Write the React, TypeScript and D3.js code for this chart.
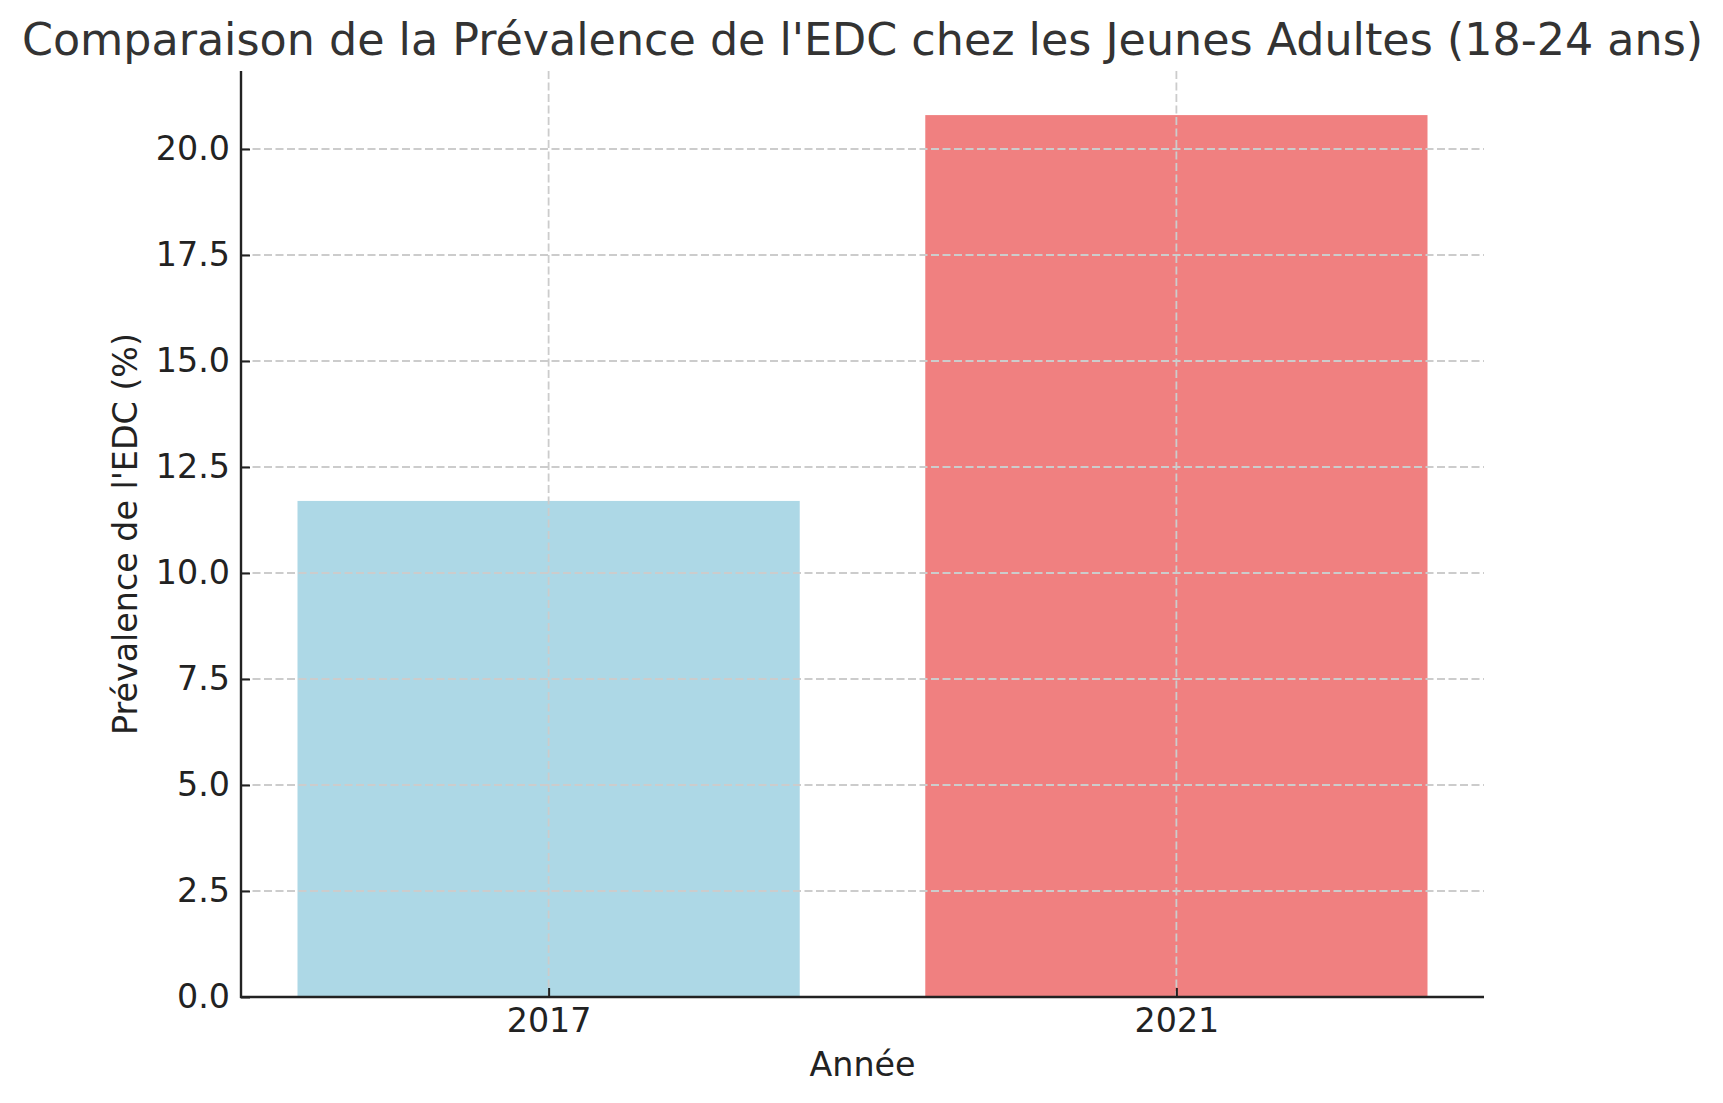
import { useEffect, useRef } from 'react'
import * as d3 from 'd3'

const years = ['2017', '2021']
const prevalence = [11.7, 20.8]
const barColors = ['#add8e6', '#f08080']
const yTicks = [0, 2.5, 5, 7.5, 10, 12.5, 15, 17.5, 20]

const title = "Comparaison de la Prévalence de l'EDC chez les Jeunes Adultes (18-24 ans)"
const xLabel = 'Année'
const yLabel = "Prévalence de l'EDC (%)"

const W = 1723
const H = 1103
const FONT = '"DejaVu Sans", sans-serif'
const LABEL_SIZE = '33.3px'

export default function App() {
  const ref = useRef<SVGSVGElement>(null)

  useEffect(() => {
    if (!ref.current) return
    const svg = d3.select(ref.current)
    svg.selectAll('*').remove()

    const left = 241
    const right = 1484
    const top = 71
    const bottom = 997

    // matplotlib style: bar positions 0..n-1, width 0.8, 5% margins
    const x = d3.scaleLinear().domain([-0.49, 1.49]).range([left, right])
    const y = d3.scaleLinear().domain([0, 20.8 * 1.05]).range([bottom, top])

    svg.append('rect').attr('width', W).attr('height', H).attr('fill', '#ffffff')

    // bars
    svg.append('g')
      .selectAll('rect')
      .data(prevalence)
      .join('rect')
      .attr('x', (_, i) => x(i - 0.4))
      .attr('width', (_, i) => x(i + 0.4) - x(i - 0.4))
      .attr('y', d => y(d))
      .attr('height', d => y(0) - y(d))
      .attr('fill', (_, i) => barColors[i])

    // grid (drawn over bars, like the source)
    const grid = svg.append('g')
      .attr('stroke', '#cccccc')
      .attr('stroke-width', 1.8)
      .attr('stroke-dasharray', '8,3.5')
    grid.selectAll('line.h')
      .data(yTicks)
      .join('line')
      .attr('class', 'h')
      .attr('x1', left)
      .attr('x2', right)
      .attr('y1', d => y(d))
      .attr('y2', d => y(d))
    grid.selectAll('line.v')
      .data(years)
      .join('line')
      .attr('class', 'v')
      .attr('x1', (_, i) => x(i))
      .attr('x2', (_, i) => x(i))
      .attr('y1', top)
      .attr('y2', bottom)

    // y axis
    const yAxis = svg.append('g')
      .attr('transform', `translate(${left},0)`)
      .call(d3.axisLeft(y).tickValues(yTicks).tickSizeInner(-9).tickSizeOuter(0).tickPadding(11)
        .tickFormat(d => d3.format('.1f')(d as number)))
    yAxis.select('.domain').remove()
    yAxis.selectAll('.tick line').attr('stroke', '#222222').attr('stroke-width', 2)
    yAxis.selectAll('.tick text')
      .attr('fill', '#222222')
      .style('font-family', FONT)
      .style('font-size', LABEL_SIZE)

    // x axis
    const xAxis = svg.append('g')
      .attr('transform', `translate(0,${bottom})`)
      .call(d3.axisBottom(x).tickValues([0, 1]).tickSizeInner(-9).tickSizeOuter(0).tickPadding(11)
        .tickFormat(d => years[d as number]))
    xAxis.select('.domain').remove()
    xAxis.selectAll('.tick line').attr('stroke', '#222222').attr('stroke-width', 2)
    xAxis.selectAll('.tick text')
      .attr('fill', '#222222')
      .style('font-family', FONT)
      .style('font-size', LABEL_SIZE)

    // spines (left + bottom only)
    svg.append('line')
      .attr('x1', left).attr('x2', left).attr('y1', top).attr('y2', bottom + 1)
      .attr('stroke', '#222222').attr('stroke-width', 2.4)
    svg.append('line')
      .attr('x1', left - 1).attr('x2', right).attr('y1', bottom).attr('y2', bottom)
      .attr('stroke', '#222222').attr('stroke-width', 2.4)

    // labels
    svg.append('text')
      .attr('x', (left + right) / 2)
      .attr('y', 55)
      .attr('text-anchor', 'middle')
      .attr('fill', '#333333')
      .style('font-family', FONT)
      .style('font-size', '44.4px')
      .text(title)

    svg.append('text')
      .attr('x', (left + right) / 2)
      .attr('y', 1076)
      .attr('text-anchor', 'middle')
      .attr('fill', '#222222')
      .style('font-family', FONT)
      .style('font-size', LABEL_SIZE)
      .text(xLabel)

    svg.append('text')
      .attr('transform', `translate(137,${(top + bottom) / 2}) rotate(-90)`)
      .attr('text-anchor', 'middle')
      .attr('fill', '#222222')
      .style('font-family', FONT)
      .style('font-size', LABEL_SIZE)
      .text(yLabel)
  }, [])

  return (
    <svg
      ref={ref}
      width={W}
      height={H}
      style={{ position: 'absolute', left: 0, top: 0, display: 'block' }}
    />
  )
}
